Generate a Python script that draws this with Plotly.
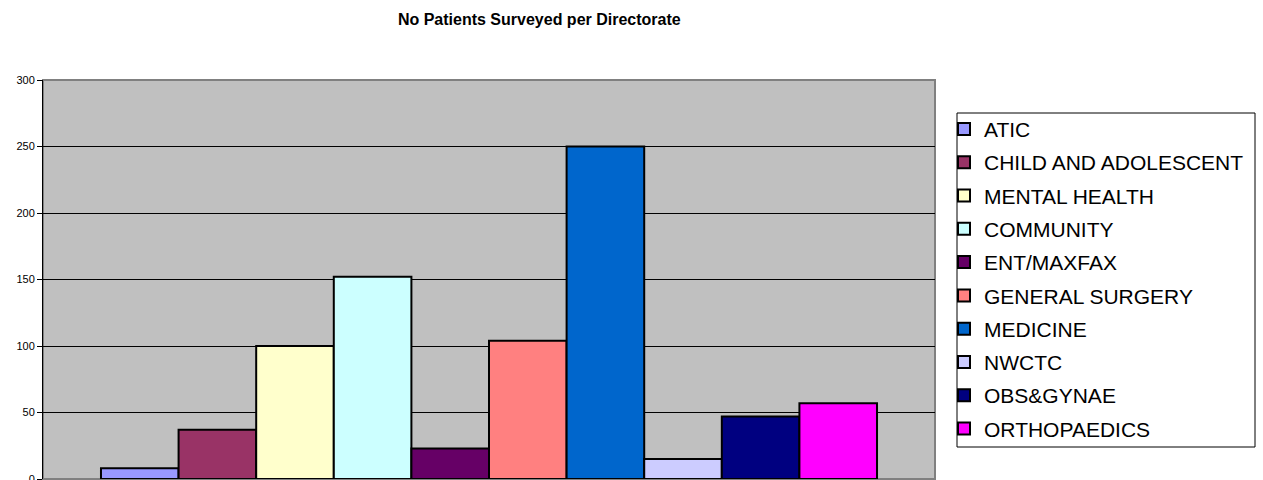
import plotly.graph_objects as go

# Patients surveyed per directorate
directorates = [
    "ATIC", "CHILD AND ADOLESCENT", "MENTAL HEALTH", "COMMUNITY", "ENT/MAXFAX",
    "GENERAL SURGERY", "MEDICINE", "NWCTC", "OBS&GYNAE", "ORTHOPAEDICS",
]
patients = [8, 37, 100, 152, 23, 104, 250, 15, 47, 57]
bar_colors = [
    "#9999FF", "#993366", "#FFFFCC", "#CCFFFF", "#660066",
    "#FF8080", "#0066CC", "#CCCCFF", "#000080", "#FF00FF",
]
category = ["Directorate"]
y_ticks = [0, 50, 100, 150, 200, 250, 300]

fig = go.Figure()
for name, value, color in zip(directorates, patients, bar_colors):
    fig.add_trace(go.Bar(
        x=category, y=[value], name=name, legendgroup=name,
        marker=dict(color=color, line=dict(color="black", width=2)),
    ))

fig.update_layout(
    template="none",
    width=1263, height=480,
    margin=dict(l=43, r=328, t=80, b=1, pad=0),
    paper_bgcolor="white",
    plot_bgcolor="#C0C0C0",
    barmode="group", bargap=0.13, bargroupgap=0,
    font=dict(family="Liberation Sans, Arial, sans-serif", color="black"),
    title=dict(
        text="<b>No Patients Surveyed per Directorate</b>",
        font=dict(size=16, color="black"),
        x=0.427, xref="container", xanchor="center",
        y=1 - 19 / 480, yref="container", yanchor="middle",
    ),
    showlegend=True,
    legend=dict(
        x=1.0101, xanchor="left", y=0.928, yanchor="top",
        font=dict(size=21, color="black"),
        bgcolor="rgba(0,0,0,0)", borderwidth=0,
        traceorder="grouped", tracegroupgap=3,
        itemwidth=30,
    ),
    xaxis=dict(
        range=[-0.5, 0.5], showticklabels=False, ticks="", showgrid=False,
        showline=False, zeroline=False, automargin=False, fixedrange=True,
    ),
    yaxis=dict(
        range=[0, 300], tickvals=y_ticks, ticktext=[str(v) for v in y_ticks],
        tickfont=dict(size=11, color="black"), ticklabeloverflow="allow",
        ticks="outside", ticklen=5, tickcolor="black", tickwidth=1,
        showline=True, linecolor="black", linewidth=1,
        showgrid=True, gridcolor="black", gridwidth=1,
        zeroline=False, automargin=False, fixedrange=True,
    ),
    shapes=[
        # plot area frame
        dict(type="rect", xref="paper", yref="paper", x0=0, x1=1, y0=0, y1=1,
             line=dict(color="#808080", width=2), layer="below"),
        # legend frame
        dict(type="rect", xref="paper", yref="paper",
             x0=(957 - 43) / 892, x1=(1255 - 43) / 892,
             y0=1 - (447 - 80) / 399, y1=1 - (113 - 80) / 399,
             line=dict(color="black", width=1), fillcolor="white", layer="below"),
    ],
)

fig.write_html("out.html")
